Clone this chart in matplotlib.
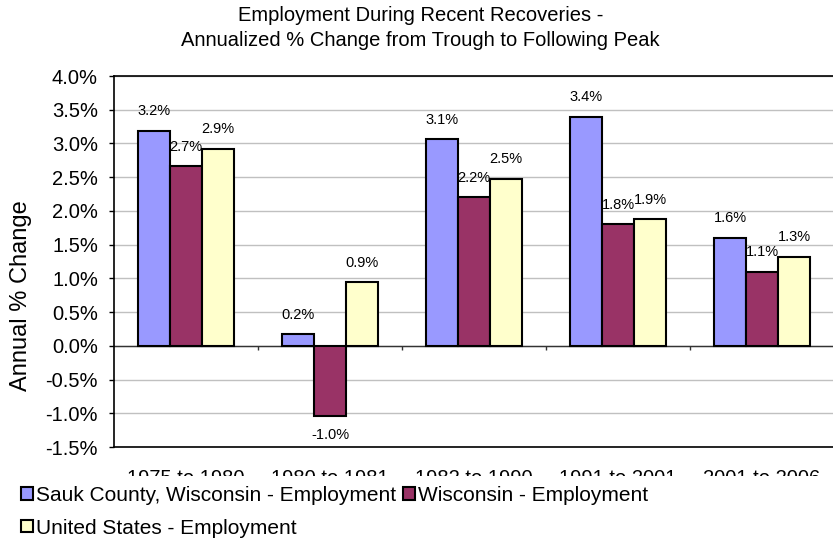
import numpy as np
import matplotlib
matplotlib.use('Agg')
import matplotlib.pyplot as plt
from matplotlib.patches import Rectangle
from matplotlib.ticker import FuncFormatter

plt.rcParams['font.family'] = ['Liberation Sans', 'DejaVu Sans']

periods = ['1975 to 1980', '1980 to 1981', '1982 to 1990', '1991 to 2001', '2001 to 2006']
sauk = [3.19, 0.17, 3.06, 3.40, 1.60]
wisconsin = [2.66, -1.04, 2.20, 1.80, 1.10]
usa = [2.92, 0.94, 2.48, 1.88, 1.32]

series = [
    ('Sauk County, Wisconsin - Employment', sauk, '#9999FF'),
    ('Wisconsin - Employment', wisconsin, '#993366'),
    ('United States - Employment', usa, '#FFFFCC'),
]

fig = plt.figure(figsize=(8.33, 5.4), dpi=100)
ax = fig.add_axes([0.1369, 0.1722, 0.8643, 0.6870])

x = np.arange(len(periods))
w = 0.222
bars = []
for i, (name, vals, col) in enumerate(series):
    b = ax.bar(x + (i - 1) * w, vals, w, color=col, edgecolor='black',
               linewidth=1.5, label=name, zorder=3)
    bars.append(b)
    for xi, v in zip(x + (i - 1) * w, vals):
        off = 14 if v >= 0 else -14
        ax.annotate(f'{v:.1f}%', (xi, v), xytext=(0, off), textcoords='offset points',
                    ha='center', va='center', fontsize=10.5, zorder=4)

ax.set_xlim(-0.5, len(periods) - 0.5)
ax.set_ylim(-1.5, 4.0)
ax.set_yticks(np.arange(-1.5, 4.01, 0.5))
ax.yaxis.set_major_formatter(FuncFormatter(lambda v, p: f'{v:.1f}%'))
ax.yaxis.grid(True, color='#C0C0C0', linewidth=1, zorder=0)
ax.set_axisbelow(True)
ax.tick_params(axis='y', direction='out', length=3.6, width=1, labelsize=14.5, pad=8)

ax.set_xticks(x)
ax.set_xticklabels(periods)
ax.tick_params(axis='x', length=0, labelsize=14.5, pad=16)

# category axis at zero with boundary tick marks
ax.axhline(0, color='#333333', linewidth=1, zorder=2)
bounds = np.arange(0.5, len(periods) - 0.5, 1.0)
ax.vlines(bounds, -0.06, 0, color='#333333', linewidth=1, zorder=2)

for s in ax.spines.values():
    s.set_color('black')
    s.set_linewidth(1.2)

fig.text(0.505, 0.988, 'Employment During Recent Recoveries -\nAnnualized % Change from Trough to Following Peak',
         ha='center', va='top', fontsize=14.5, linespacing=1.35)
fig.text(0.025, 0.452, 'Annual % Change', rotation=90, ha='center', va='center', fontsize=17)

# white band hiding the lower part of the category labels
fig.add_artist(Rectangle((0, 0), 1, 0.1185, transform=fig.transFigure,
                         facecolor='white', edgecolor='none', zorder=5))

handles = [bars[0], bars[2], bars[1]]
labels = [series[0][0], series[2][0], series[1][0]]
leg = fig.legend(handles, labels, loc='upper left', bbox_to_anchor=(0.008, 0.127),
                 ncol=2, frameon=False, fontsize=15, handlelength=0.55, handleheight=0.55,
                 handletextpad=0.15, columnspacing=0.35, labelspacing=0.65, borderpad=0.2)
leg.set_zorder(10)

fig.savefig('out.png', dpi=100)
